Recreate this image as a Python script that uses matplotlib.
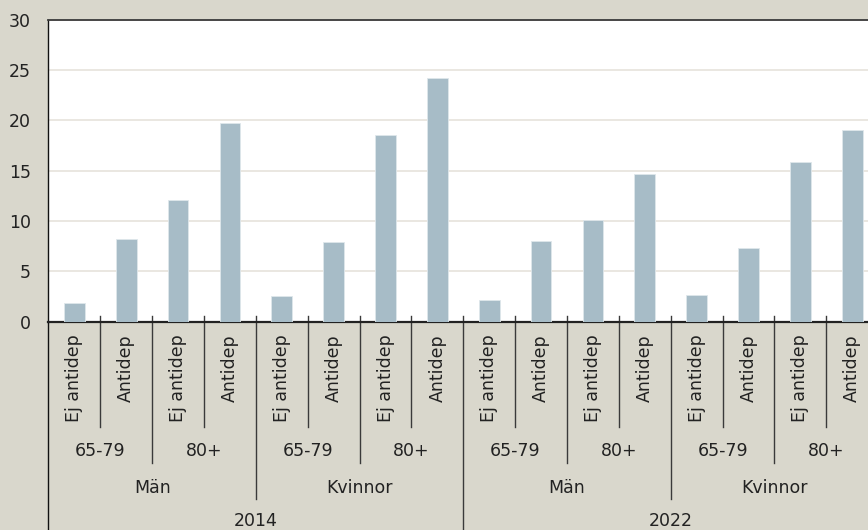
import matplotlib
matplotlib.use("Agg")
import matplotlib.pyplot as plt

# ---- data ----
years = ["2014", "2022"]
sexes = ["Män", "Kvinnor"]
ages = ["65-79", "80+"]
groups = ["Ej antidep", "Antidep"]
values = [1.9, 8.2, 12.1, 19.7, 2.6, 7.9, 18.5, 24.2,
          2.2, 8.0, 10.1, 14.7, 2.7, 7.3, 15.9, 19.0]
yticks = [0, 5, 10, 15, 20, 25, 30]

BG = "#d9d7cc"
BAR = "#a7bcc7"
GRID = "#e6e3dc"
DARK = "#3a3a3a"
TXT = "#222222"
FS = 12.5

plt.rcParams["font.family"] = ["DejaVu Sans"]

fig = plt.figure(figsize=(8.68, 5.30), dpi=100, facecolor=BG)
W, H = 868, 530
left_px, right_px, top_px, zero_px = 48.4, 878.2, 19.7, 321.7
ax = fig.add_axes([left_px / W, (H - zero_px) / H,
                   (right_px - left_px) / W, (zero_px - top_px) / H])
ax.set_facecolor("white")

n = len(values)
xs = list(range(n))
ax.bar(xs, values, width=0.4, color=BAR, edgecolor="#dfe7eb", linewidth=0.6, zorder=3)
ax.set_xlim(-0.5, n - 0.5)
ax.set_ylim(0, 30)
ax.set_yticks(yticks)
ax.set_yticklabels([str(t) for t in yticks], fontsize=FS, color=TXT)
ax.tick_params(axis="y", length=0, pad=12.5)
ax.set_xticks([])
ax.yaxis.grid(True, color=GRID, linewidth=1.2, zorder=0)
ax.set_axisbelow(True)

ax.spines["right"].set_visible(False)
ax.spines["top"].set_color(DARK)
ax.spines["top"].set_linewidth(1.3)
ax.spines["left"].set_color("#111111")
ax.spines["left"].set_linewidth(1.0)
ax.spines["bottom"].set_color("#222222")
ax.spines["bottom"].set_linewidth(1.6)

axh = zero_px - top_px
def yf(px):
    return (zero_px - px) / axh

tr = ax.get_xaxis_transform()
line_kw = dict(transform=tr, clip_on=False, color=DARK, linewidth=1.0)

# left edge extension
ax.plot([-0.5, -0.5], [0, yf(540)], **dict(line_kw, color="#111111"))

# separators
per_age = len(groups)
per_sex = per_age * len(ages)
per_year = per_sex * len(sexes)
for b in range(1, n):
    xb = b - 0.5
    if b % per_year == 0:
        yend = yf(540)
    elif b % per_sex == 0:
        yend = yf(499.3)
    elif b % per_age == 0:
        yend = yf(463.3)
    else:
        yend = yf(426.7)
    ax.plot([xb, xb], [yf(316), yend], **line_kw)

# labels
i = 0
for yi, yr in enumerate(years):
    for si, sx in enumerate(sexes):
        for ai, ag in enumerate(ages):
            for gi, g in enumerate(groups):
                ax.text(i, yf(334.5), g, transform=tr, rotation=90,
                        ha="center", va="top", fontsize=FS, color=TXT, clip_on=False)
                i += 1
            c = (i - per_age + i - 1) / 2
            ax.text(c, yf(451.5), ag, transform=tr, ha="center", va="center",
                    fontsize=FS, color=TXT, clip_on=False)
        c = (i - per_sex + i - 1) / 2
        ax.text(c, yf(488.3), sx, transform=tr, ha="center", va="center",
                fontsize=FS, color=TXT, clip_on=False)
    c = (i - per_year + i - 1) / 2
    ax.text(c, yf(529.5), yr, transform=tr, ha="center", va="bottom",
            fontsize=FS, color=TXT, clip_on=False)

fig.savefig("out.png", dpi=100, facecolor=BG)
